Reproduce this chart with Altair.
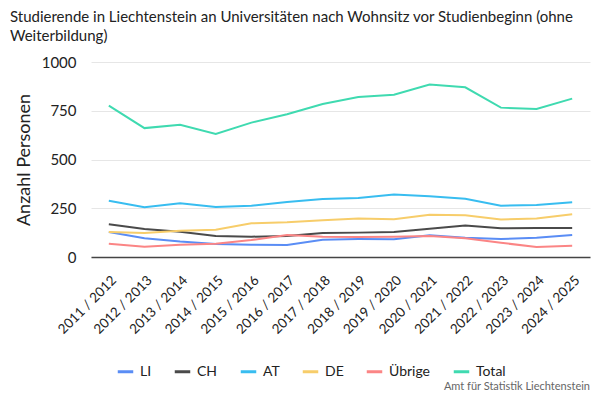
import pandas as pd
import altair as alt

# Studienjahre
jahre = ["2011 / 2012", "2012 / 2013", "2013 / 2014", "2014 / 2015", "2015 / 2016",
         "2016 / 2017", "2017 / 2018", "2018 / 2019", "2019 / 2020", "2020 / 2021",
         "2021 / 2022", "2022 / 2023", "2023 / 2024", "2024 / 2025"]

# Studierende nach Wohnsitz vor Studienbeginn
li = [128, 96, 79, 67, 63, 62, 89, 92, 91, 111, 99, 92, 99, 113]
ch = [168, 144, 130, 108, 104, 108, 123, 125, 128, 145, 162, 147, 149, 149]
at = [289, 255, 275, 256, 263, 282, 297, 303, 321, 311, 299, 263, 267, 281]
de = [128, 123, 135, 140, 173, 178, 188, 197, 193, 217, 214, 192, 197, 219]
uebrige = [68, 53, 63, 68, 87, 113, 104, 103, 104, 108, 96, 73, 51, 58]
total = [776, 661, 678, 631, 689, 732, 785, 820, 832, 884, 870, 766, 759, 812]

gruppen = ["LI", "CH", "AT", "DE", "Übrige", "Total"]
farben = ["#5a8df5", "#4a4a4a", "#38bdf0", "#f7cd6a", "#fb8585", "#3fdab0"]

FONT = "Lato"

df = pd.DataFrame({"Jahr": jahre, "LI": li, "CH": ch, "AT": at, "DE": de,
                   "Übrige": uebrige, "Total": total})
df = df.melt(id_vars="Jahr", var_name="Wohnsitz", value_name="Anzahl")

linien = (
    alt.Chart(df)
    .mark_line(strokeWidth=2)
    .encode(
        x=alt.X("Jahr:O", sort=jahre, title=None,
                scale=alt.Scale(padding=0.5),
                axis=alt.Axis(labelAngle=-45, labelFontSize=13.5, labelColor="#222",
                              labelPadding=16, ticks=False, domainColor="#444",
                              domainWidth=1.5, grid=False)),
        y=alt.Y("Anzahl:Q", title="Anzahl Personen",
                scale=alt.Scale(domain=[0, 1000]),
                axis=alt.Axis(values=[0, 250, 500, 750, 1000], format="d",
                              labelFontSize=15, labelColor="#222",
                              titleFontSize=18, titleColor="#222",
                              titleFontWeight="normal", titlePadding=8,
                              ticks=False, domain=False, labelPadding=15,
                              gridColor="#e6e6e6")),
        color=alt.Color("Wohnsitz:N", title=None,
                        scale=alt.Scale(domain=gruppen, range=farben),
                        legend=alt.Legend(orient="none", direction="horizontal",
                                          legendX=25, legendY=300,
                                          symbolType="stroke", symbolStrokeWidth=3,
                                          symbolSize=240, labelFontSize=14,
                                          labelColor="#222", columnPadding=16,
                                          labelOffset=5)),
    )
)

quelle = (
    alt.Chart(pd.DataFrame({"t": ["Amt für Statistik Liechtenstein"]}))
    .mark_text(align="right", baseline="middle", fontSize=11, color="#666", font=FONT)
    .encode(x=alt.value(499), y=alt.value(325), text="t:N")
)

chart = (
    alt.layer(linien, quelle)
    .properties(
        width=499, height=195,
        autosize=alt.AutoSizeParams(type="none"),
        padding={"left": 83, "top": 54, "right": 2, "bottom": 135},
        title=alt.Title(
            ["Studierende in Liechtenstein an Universitäten nach Wohnsitz vor Studienbeginn (ohne",
             "Weiterbildung)"],
            anchor="start", frame="group", dx=-81, offset=11,
            fontSize=15, fontWeight="normal", color="#222", lineHeight=19),
    )
    .configure(font=FONT)
    .configure_view(stroke=None)
)

chart.save("out.html", embed_options={"renderer": "svg", "actions": False})
